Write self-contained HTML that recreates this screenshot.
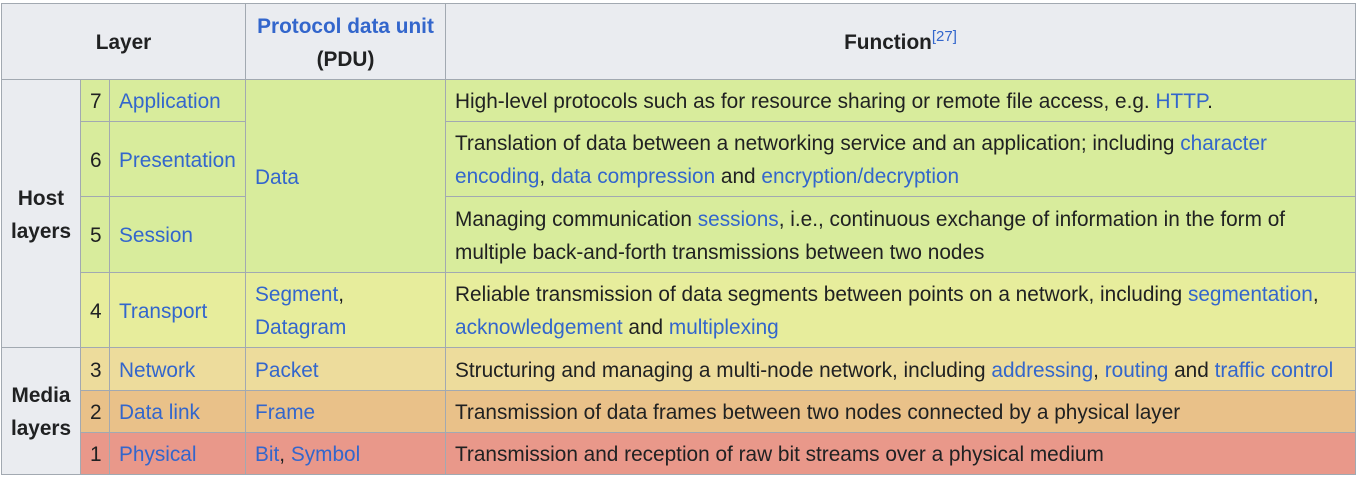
<!DOCTYPE html><html><head><style>
body{margin:0;background:#fff;width:1356px;height:477px;position:relative;font-family:"Liberation Sans",sans-serif;font-size:20.8px;color:#202122;}
.c{position:absolute;box-sizing:border-box;border:1px solid #a2a9b1;display:flex;align-items:center;padding:2px 9px 0 9px;line-height:33px;}
a{color:#3366cc;text-decoration:none}
.h{background:#eaecf0;font-weight:bold;justify-content:center;text-align:center}
.g{background:#d8ec9c}.t{background:#e7ed9c}.n{background:#eddc9c}.d{background:#e9c189}.p{background:#e9988a}
sup{font-size:15px;font-weight:normal;vertical-align:top;position:relative;top:-6px}
</style></head><body>
<div class="c h" style="left:1px;top:3px;width:245px;height:77px">Layer</div>
<div class="c h" style="left:245px;top:3px;width:201px;height:77px"><div><a>Protocol data unit</a><br>(PDU)</div></div>
<div class="c h" style="left:445px;top:3px;width:911px;height:77px">Function<sup><a>[27]</a></sup></div>

<div class="c h" style="left:1px;top:79px;width:80px;height:269px"><div>Host<br>layers</div></div>
<div class="c h" style="left:1px;top:347px;width:80px;height:128px"><div>Media<br>layers</div></div>

<div class="c g" style="left:80px;top:79px;width:30px;height:43px">7</div>
<div class="c g" style="left:109px;top:79px;width:137px;height:43px"><a>Application</a></div>
<div class="c g" style="left:80px;top:121px;width:30px;height:76px">6</div>
<div class="c g" style="left:109px;top:121px;width:137px;height:76px"><a>Presentation</a></div>
<div class="c g" style="left:80px;top:196px;width:30px;height:77px">5</div>
<div class="c g" style="left:109px;top:196px;width:137px;height:77px"><a>Session</a></div>
<div class="c g" style="left:245px;top:79px;width:201px;height:194px"><a>Data</a></div>
<div class="c g" style="left:445px;top:79px;width:911px;height:43px"><div>High-level protocols such as for resource sharing or remote file access, e.g. <a>HTTP</a>.</div></div>
<div class="c g" style="left:445px;top:121px;width:911px;height:76px"><div>Translation of data between a networking service and an application; including <a>character</a><br><a>encoding</a>, <a>data compression</a> and <a>encryption/decryption</a></div></div>
<div class="c g" style="left:445px;top:196px;width:911px;height:77px"><div>Managing communication <a>sessions</a>, i.e., continuous exchange of information in the form of<br>multiple back-and-forth transmissions between two nodes</div></div>

<div class="c t" style="left:80px;top:272px;width:30px;height:76px">4</div>
<div class="c t" style="left:109px;top:272px;width:137px;height:76px"><a>Transport</a></div>
<div class="c t" style="left:245px;top:272px;width:201px;height:76px"><div><a>Segment</a>,<br><a>Datagram</a></div></div>
<div class="c t" style="left:445px;top:272px;width:911px;height:76px"><div>Reliable transmission of data segments between points on a network, including <a>segmentation</a>,<br><a>acknowledgement</a> and <a>multiplexing</a></div></div>

<div class="c n" style="left:80px;top:347px;width:30px;height:44px">3</div>
<div class="c n" style="left:109px;top:347px;width:137px;height:44px"><a>Network</a></div>
<div class="c n" style="left:245px;top:347px;width:201px;height:44px"><a>Packet</a></div>
<div class="c n" style="left:445px;top:347px;width:911px;height:44px"><div style="white-space:nowrap">Structuring and managing a multi-node network, including <a>addressing</a>, <a>routing</a> and <a>traffic control</a></div></div>

<div class="c d" style="left:80px;top:390px;width:30px;height:43px">2</div>
<div class="c d" style="left:109px;top:390px;width:137px;height:43px"><a>Data link</a></div>
<div class="c d" style="left:245px;top:390px;width:201px;height:43px"><a>Frame</a></div>
<div class="c d" style="left:445px;top:390px;width:911px;height:43px"><div>Transmission of data frames between two nodes connected by a physical layer</div></div>

<div class="c p" style="left:80px;top:432px;width:30px;height:43px">1</div>
<div class="c p" style="left:109px;top:432px;width:137px;height:43px"><a>Physical</a></div>
<div class="c p" style="left:245px;top:432px;width:201px;height:43px"><div><a>Bit</a>, <a>Symbol</a></div></div>
<div class="c p" style="left:445px;top:432px;width:911px;height:43px"><div>Transmission and reception of raw bit streams over a physical medium</div></div>
</body></html>
